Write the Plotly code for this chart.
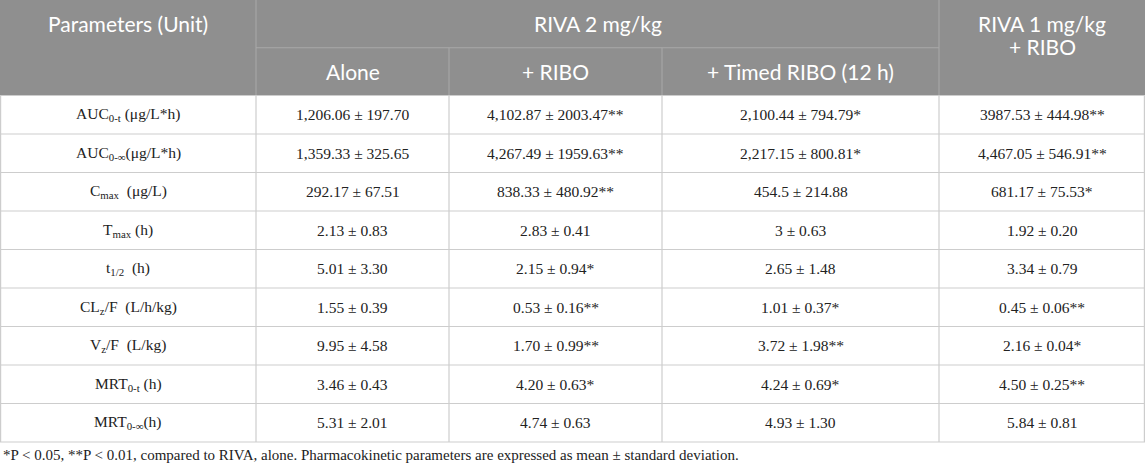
import plotly.graph_objects as go

# table content
params = [
    "AUC<sub>0-t</sub> (μg/L*h)",
    "AUC<sub>0-∞</sub>(μg/L*h)",
    "C<sub>max</sub>  (μg/L)",
    "T<sub>max</sub> (h)",
    "t<sub>1/2</sub>  (h)",
    "CL<sub>z</sub>/F  (L/h/kg)",
    "V<sub>z</sub>/F  (L/kg)",
    "MRT<sub>0-t</sub> (h)",
    "MRT<sub>0-∞</sub>(h)",
]
alone = ["1,206.06 ± 197.70", "1,359.33 ± 325.65", "292.17 ± 67.51", "2.13 ± 0.83",
         "5.01 ± 3.30", "1.55 ± 0.39", "9.95 ± 4.58", "3.46 ± 0.43", "5.31 ± 2.01"]
ribo = ["4,102.87 ± 2003.47**", "4,267.49 ± 1959.63**", "838.33 ± 480.92**", "2.83 ± 0.41",
        "2.15 ± 0.94*", "0.53 ± 0.16**", "1.70 ± 0.99**", "4.20 ± 0.63*", "4.74 ± 0.63"]
timed = ["2,100.44 ± 794.79*", "2,217.15 ± 800.81*", "454.5 ± 214.88", "3 ± 0.63",
         "2.65 ± 1.48", "1.01 ± 0.37*", "3.72 ± 1.98**", "4.24 ± 0.69*", "4.93 ± 1.30"]
riva1 = ["3987.53 ± 444.98**", "4,467.05 ± 546.91**", "681.17 ± 75.53*", "1.92 ± 0.20",
         "3.34 ± 0.79", "0.45 ± 0.06**", "2.16 ± 0.04*", "4.50 ± 0.25**", "5.84 ± 0.81"]

top_header = "Parameters (Unit)"
group_header = "RIVA 2 mg/kg"
sub_headers = ["Alone", "+ RIBO", "+ Timed RIBO (12 h)"]
last_header = ["RIVA 1 mg/kg", "+ RIBO"]
footnote = ("*P < 0.05, **P < 0.01, compared to RIVA, alone. Pharmacokinetic parameters "
            "are expressed as mean ± standard deviation.")

W, H = 1145, 466
col_edges = [0, 256, 449, 662, 939, W]
head_h = 95.5
row_h = 38.5
header_bg = "#8f8f8f"
head_line = "#a9a9a9"
grid = "#cdcdcd"
sans = "Lato"
serif = "Liberation Serif"

columns = [params, alone, ribo, timed, riva1]
n_rows = len(params)
body_bottom = head_h + n_rows * row_h

shapes = []
annotations = []

# header block
shapes.append(dict(type="rect", x0=0, x1=W, y0=0, y1=head_h,
                   fillcolor=header_bg, line=dict(width=0), layer="below"))
shapes.append(dict(type="line", x0=col_edges[1], x1=col_edges[4], y0=head_h / 2, y1=head_h / 2,
                   line=dict(color=head_line, width=1)))
for i, x in enumerate(col_edges[1:-1], start=1):
    y0 = 0 if i in (1, 4) else head_h / 2
    shapes.append(dict(type="line", x0=x, x1=x, y0=y0, y1=head_h,
                       line=dict(color=head_line, width=1)))

hfont = dict(family=sans, size=21, color="white")
annotations.append(dict(x=(col_edges[0] + col_edges[1]) / 2, y=head_h / 4, text=top_header,
                        font=hfont))
annotations.append(dict(x=(col_edges[1] + col_edges[4]) / 2, y=head_h / 4, text=group_header,
                        font=hfont))
for j, t in enumerate(sub_headers):
    annotations.append(dict(x=(col_edges[j + 1] + col_edges[j + 2]) / 2, y=head_h * 3 / 4,
                            text=t, font=hfont))
for k, t in enumerate(last_header):
    annotations.append(dict(x=(col_edges[4] + col_edges[5]) / 2, y=head_h / 4 + k * 23,
                            text=t, font=hfont))

# body grid
for r in range(n_rows + 1):
    y = head_h + r * row_h
    shapes.append(dict(type="line", x0=0, x1=W, y0=y, y1=y, line=dict(color=grid, width=1.2)))
for x in col_edges:
    xx = min(max(x, 0.6), W - 0.6)
    shapes.append(dict(type="line", x0=xx, x1=xx, y0=head_h, y1=body_bottom,
                       line=dict(color=grid, width=1.2)))

# body text
bfont = dict(family=serif, size=15.5, color="#222222")
for c, col in enumerate(columns):
    xc = (col_edges[c] + col_edges[c + 1]) / 2
    for r, t in enumerate(col):
        annotations.append(dict(x=xc, y=head_h + (r + 0.5) * row_h, text=t, font=bfont))

annotations.append(dict(x=1, y=455, text=footnote, xanchor="left",
                        font=dict(family=serif, size=15, color="#222222")))

for a in annotations:
    a.update(xref="x", yref="y", showarrow=False)
    a.setdefault("xanchor", "center")
    a["yanchor"] = "middle"

fig = go.Figure()
fig.update_layout(
    width=W, height=H, autosize=False,
    margin=dict(l=0, r=0, t=0, b=0),
    paper_bgcolor="white", plot_bgcolor="white",
    xaxis=dict(range=[0, W], visible=False, fixedrange=True),
    yaxis=dict(range=[H, 0], visible=False, fixedrange=True),
    shapes=shapes, annotations=annotations, showlegend=False,
)

fig.write_html("out.html", config=dict(displayModeBar=False),
               post_script="document.body.style.margin='0';document.body.style.overflow='hidden';")
